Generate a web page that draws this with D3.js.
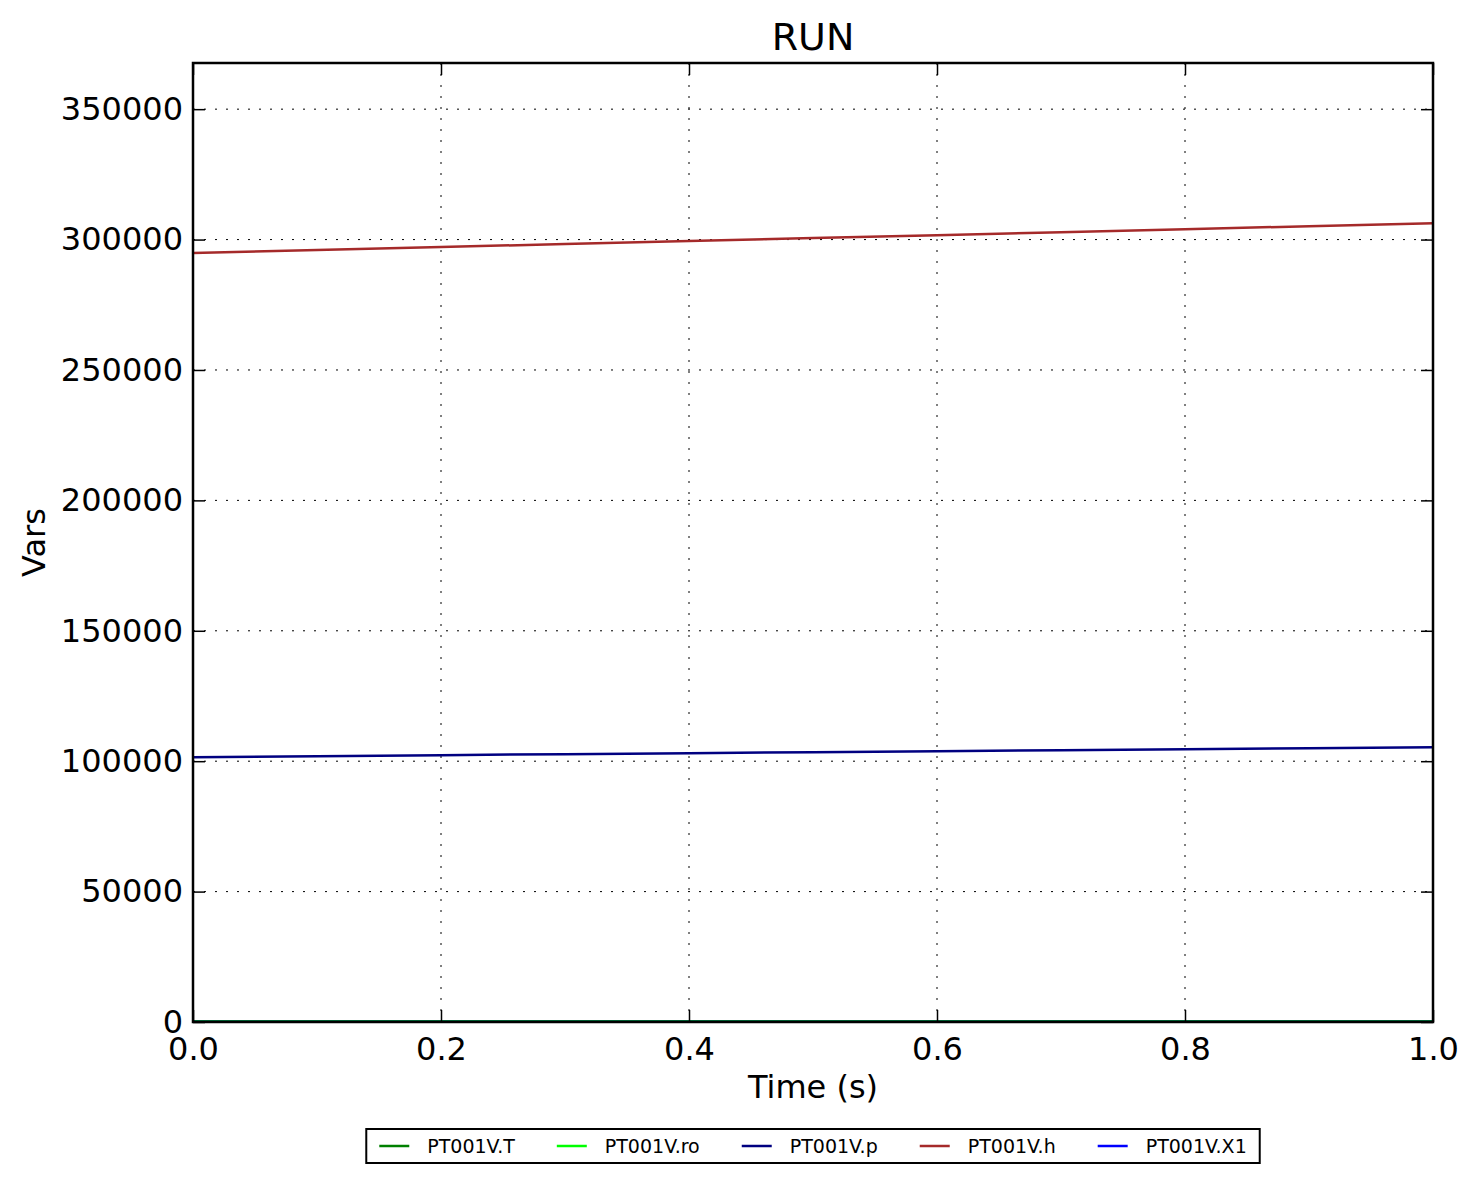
<!DOCTYPE html>
<html>
<head>
<meta charset="utf-8">
<script src="https://cdn.jsdelivr.net/npm/d3@7"></script>
<style>
    body { margin: 0; background: #fff; }
    svg { display: block; font-family: "DejaVu Sans", sans-serif; }
</style>
</head>
<body>
<svg id="chart"></svg>
<script>
// Simulation output, sampled every 0.1 s
var times = [0.0, 0.1, 0.2, 0.3, 0.4, 0.5, 0.6, 0.7, 0.8, 0.9, 1.0];
var seriesNames = ["PT001V.T", "PT001V.ro", "PT001V.p", "PT001V.h", "PT001V.X1"];
var seriesColours = ["#008000", "#00ff00", "#000080", "#a52a2a", "#0000ff"];
var valuesT = [300.0, 300.1, 300.2, 300.3, 300.4, 300.5, 300.6, 300.7, 300.8, 300.9, 301.0];
var valuesRo = [1.20, 1.20, 1.21, 1.21, 1.21, 1.22, 1.22, 1.22, 1.23, 1.23, 1.23];
var valuesP = [101540, 101930, 102310, 102700, 103080, 103470, 103850, 104230, 104610, 105000, 105380];
var valuesH = [294850, 296000, 297150, 298280, 299420, 300560, 301700, 302840, 303980, 305120, 306270];
var valuesX1 = [0, 0, 0, 0, 0, 0, 0, 0, 0, 0, 0];
var xTicks = [0.0, 0.2, 0.4, 0.6, 0.8, 1.0];
var yTicks = [0, 50000, 100000, 150000, 200000, 250000, 300000, 350000];
var yMax = 367700;

function drawChart() {
    var width = 1476,
        height = 1183,
        left = 193,
        top = 63,
        right = 1433,
        bottom = 1022;

    var svg = d3.select("#chart")
        .attr("width", width)
        .attr("height", height);

    var x = d3.scaleLinear().domain([0, 1]).range([left, right]);
    var y = d3.scaleLinear().domain([0, yMax]).range([bottom, top]);

    // Grid lines (dotted)
    svg.append("g").selectAll("line")
        .data(xTicks.slice(1, -1))
        .enter().append("line")
        .attr("x1", function (d) { return x(d); })
        .attr("x2", function (d) { return x(d); })
        .attr("y1", top)
        .attr("y2", bottom)
        .attr("stroke", "#000")
        .attr("stroke-width", 1)
        .attr("stroke-dasharray", "2,9");

    svg.append("g").selectAll("line")
        .data(yTicks.slice(1))
        .enter().append("line")
        .attr("x1", left)
        .attr("x2", right)
        .attr("y1", function (d) { return y(d); })
        .attr("y2", function (d) { return y(d); })
        .attr("stroke", "#000")
        .attr("stroke-width", 1)
        .attr("stroke-dasharray", "2,9");

    // Data lines
    svg.append("clipPath").attr("id", "plot-clip")
        .append("rect")
        .attr("x", left).attr("y", top)
        .attr("width", right - left).attr("height", bottom - top);

    var allValues = [valuesT, valuesRo, valuesP, valuesH, valuesX1];
    var line = d3.line()
        .x(function (d, i) { return x(times[i]); })
        .y(function (d) { return y(d); });

    svg.append("g")
        .attr("clip-path", "url(#plot-clip)")
        .selectAll("path")
        .data(allValues)
        .enter().append("path")
        .attr("d", line)
        .attr("fill", "none")
        .attr("stroke", function (d, i) { return seriesColours[i]; })
        .attr("stroke-width", 2.5);

    // Axes with inward ticks on all four sides
    var tickLen = 12;
    var fmtX = d3.format(".1f");

    svg.append("g")
        .attr("transform", "translate(0," + bottom + ")")
        .call(d3.axisBottom(x).tickValues(xTicks).tickFormat(fmtX).tickSizeInner(-tickLen).tickSizeOuter(0).tickPadding(15))
        .call(styleAxis);
    svg.append("g")
        .attr("transform", "translate(0," + top + ")")
        .call(d3.axisTop(x).tickValues(xTicks).tickFormat("").tickSizeInner(-tickLen).tickSizeOuter(0))
        .call(styleAxis);
    svg.append("g")
        .attr("transform", "translate(" + left + ",0)")
        .call(d3.axisLeft(y).tickValues(yTicks).tickFormat(d3.format("d")).tickSizeInner(-tickLen).tickSizeOuter(0).tickPadding(10))
        .call(styleAxis);
    svg.append("g")
        .attr("transform", "translate(" + right + ",0)")
        .call(d3.axisRight(y).tickValues(yTicks).tickFormat("").tickSizeInner(-tickLen).tickSizeOuter(0))
        .call(styleAxis);

    function styleAxis(g) {
        g.select(".domain").remove();
        g.selectAll(".tick line").attr("stroke", "#000").attr("stroke-width", 1.5);
        g.selectAll(".tick text")
            .attr("fill", "#000")
            .style("font-size", "32px")
            .style("font-family", "DejaVu Sans");
    }

    // Frame
    svg.append("rect")
        .attr("x", left).attr("y", top)
        .attr("width", right - left).attr("height", bottom - top)
        .attr("fill", "none")
        .attr("stroke", "#000")
        .attr("stroke-width", 2.5);

    // Titles
    svg.append("text")
        .attr("x", (left + right) / 2).attr("y", 50)
        .attr("text-anchor", "middle")
        .style("font-size", "38px")
        .text("RUN");

    svg.append("text")
        .attr("x", (left + right) / 2).attr("y", 1098)
        .attr("text-anchor", "middle")
        .style("font-size", "32px")
        .text("Time (s)");

    svg.append("text")
        .attr("transform", "translate(45," + ((top + bottom) / 2) + ") rotate(-90)")
        .attr("text-anchor", "middle")
        .style("font-size", "32px")
        .text("Vars");

    // Legend below the plot, laid out from measured text widths
    var legend = svg.append("g");
    var legY = 1146,
        sample = 30,
        gapText = 18,
        gapItem = 42,
        pad = 13;
    var items = legend.selectAll("g")
        .data(seriesNames)
        .enter().append("g");
    items.append("line")
        .attr("x1", 0).attr("x2", sample)
        .attr("y1", 0).attr("y2", 0)
        .attr("stroke", function (d, i) { return seriesColours[i]; })
        .attr("stroke-width", 2.5);
    items.append("text")
        .attr("x", sample + gapText)
        .attr("dy", "0.35em")
        .style("font-size", "19px")
        .text(function (d) { return d; });

    var offset = 0;
    var widths = [];
    items.each(function () {
        var w = sample + gapText + d3.select(this).select("text").node().getComputedTextLength();
        widths.push(w);
    });
    var total = d3.sum(widths) + gapItem * (widths.length - 1) + pad * 2;
    var startX = (left + right) / 2 - total / 2;
    items.attr("transform", function (d, i) {
        var tx = startX + pad + offset;
        offset += widths[i] + gapItem;
        return "translate(" + tx + "," + legY + ")";
    });
    legend.insert("rect", ":first-child")
        .attr("x", startX).attr("y", 1129)
        .attr("width", total).attr("height", 34)
        .attr("fill", "#fff")
        .attr("stroke", "#000")
        .attr("stroke-width", 2);
}

drawChart();
</script>
</body>
</html>
